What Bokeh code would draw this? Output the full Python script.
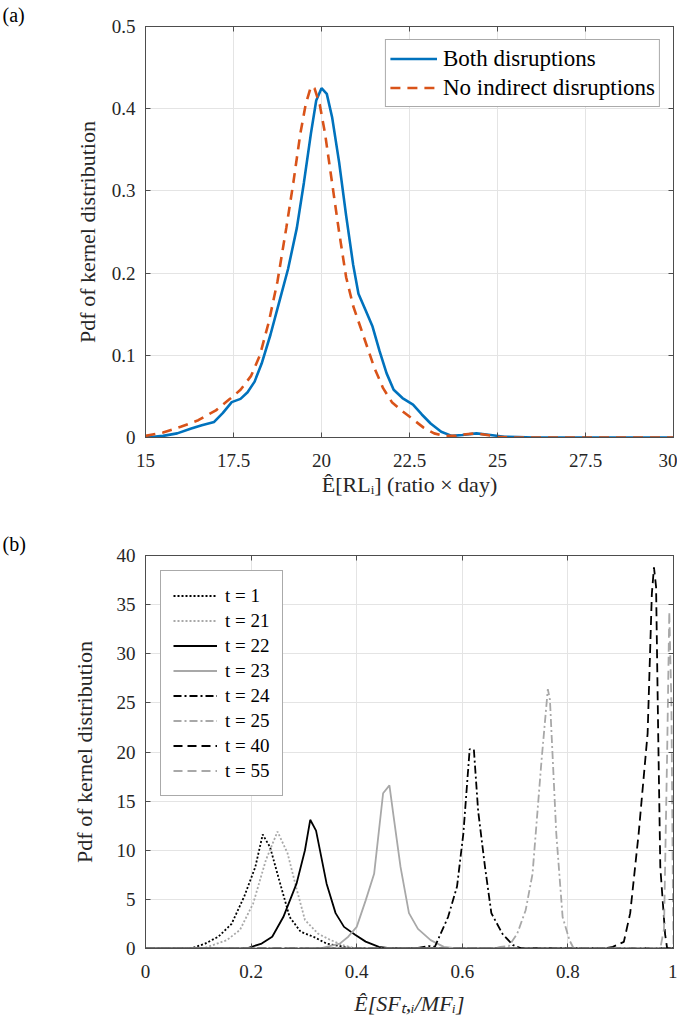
from bokeh.plotting import figure
from bokeh.models import LinearAxis, FixedTicker, Range1d
from bokeh.layouts import column
from bokeh.embed import file_html
from bokeh.resources import INLINE

# ---------------- data: panel (a) ----------------
a_x_ticks = [15, 17.5, 20, 22.5, 25, 27.5, 30]
a_x_labels = ["15", "17.5", "20", "22.5", "25", "27.5", "30"]
a_y_ticks = [0, 0.1, 0.2, 0.3, 0.4, 0.5]
a_y_labels = ["0", "0.1", "0.2", "0.3", "0.4", "0.5"]

both_x = [15, 15.5, 15.9, 16.3, 16.6, 16.95, 17.2, 17.45, 17.7, 17.9, 18.1, 18.3,
          18.55, 18.8, 19.05, 19.3, 19.5, 19.7, 19.85, 20.0, 20.15, 20.3, 20.5, 20.7,
          20.9, 21.05, 21.25, 21.45, 21.65, 21.85, 22.05, 22.3, 22.6, 22.85, 23.1,
          23.4, 23.7, 24.0, 24.4, 24.8, 25.2, 25.6, 26, 30]
both_y = [0.000, 0.002, 0.005, 0.011, 0.015, 0.019, 0.030, 0.043, 0.047, 0.055, 0.068, 0.090,
          0.125, 0.165, 0.205, 0.255, 0.310, 0.370, 0.410, 0.425, 0.418, 0.390, 0.335, 0.270,
          0.210, 0.175, 0.155, 0.135, 0.105, 0.078, 0.058, 0.048, 0.040, 0.028, 0.017,
          0.007, 0.002, 0.003, 0.005, 0.003, 0.001, 0.0005, 0, 0]

noind_x = [15, 15.5, 16.0, 16.5, 17.0, 17.4, 17.7, 18.0, 18.25, 18.5, 18.75, 19.0, 19.2,
           19.4, 19.55, 19.7, 19.8, 19.95, 20.1, 20.3, 20.5, 20.7, 20.9, 21.1, 21.3, 21.5,
           21.75, 22.0, 22.3, 22.6, 22.9, 23.2, 23.5, 23.8, 24.1, 24.4, 24.7, 25.0, 25.3, 30]
noind_y = [0.002, 0.006, 0.013, 0.021, 0.033, 0.047, 0.058, 0.075, 0.100, 0.140, 0.190, 0.255,
           0.310, 0.370, 0.405, 0.427, 0.425, 0.405, 0.370, 0.310, 0.250, 0.195, 0.160, 0.135,
           0.110, 0.085, 0.060, 0.043, 0.032, 0.022, 0.012, 0.005, 0.002, 0.002, 0.004, 0.005,
           0.003, 0.001, 0, 0]

# ---------------- data: panel (b) ----------------
b_x_ticks = [0, 0.2, 0.4, 0.6, 0.8, 1]
b_x_labels = ["0", "0.2", "0.4", "0.6", "0.8", "1"]
b_y_ticks = [0, 5, 10, 15, 20, 25, 30, 35, 40]
b_y_labels = ["0", "5", "10", "15", "20", "25", "30", "35", "40"]

t1_x = [0, 0.07, 0.09, 0.113, 0.138, 0.163, 0.187, 0.208, 0.222, 0.236, 0.253, 0.273,
        0.294, 0.318, 0.343, 0.376, 0.4, 1]
t1_y = [0, 0, 0.07, 0.5, 1.2, 2.5, 5.3, 8.3, 11.6, 10.3, 7.0, 3.2, 1.7, 1.2, 0.5, 0.17, 0, 0]

t21_x = [0, 0.1, 0.113, 0.154, 0.179, 0.204, 0.228, 0.25, 0.269, 0.286, 0.302, 0.327,
         0.351, 0.376, 0.4, 1]
t21_y = [0, 0, 0.07, 0.85, 1.9, 4.6, 9.0, 11.9, 9.7, 6.1, 2.9, 1.5, 0.85, 0.3, 0, 0]

t22_x = [0, 0.18, 0.195, 0.22, 0.24, 0.261, 0.286, 0.302, 0.312, 0.323, 0.343, 0.36,
         0.376, 0.397, 0.417, 0.442, 0.466, 1]
t22_y = [0, 0, 0.07, 0.5, 1.2, 3.2, 6.6, 10.0, 13.1, 12.0, 6.6, 3.6, 2.2, 1.4, 0.7, 0.17, 0, 0]

t23_x = [0, 0.32, 0.335, 0.368, 0.384, 0.4, 0.417, 0.433, 0.45, 0.462, 0.47, 0.483,
         0.499, 0.516, 0.54, 0.565, 0.59, 1]
t23_y = [0, 0, 0.07, 0.5, 1.2, 2.2, 4.9, 7.6, 15.8, 16.6, 13.4, 8.3, 3.6, 2.0, 0.85, 0.17, 0, 0]

t24_x = [0, 0.5, 0.516, 0.536, 0.548, 0.573, 0.59, 0.602, 0.614, 0.622, 0.63, 0.643,
         0.655, 0.676, 0.696, 0.713, 1]
t24_y = [0, 0, 0.07, 0.25, 0.17, 3.2, 6.3, 11.7, 20.3, 20.2, 14.0, 8.3, 3.6, 1.5, 0.34, 0, 0]

t25_x = [0, 0.66, 0.672, 0.688, 0.704, 0.72, 0.733, 0.75, 0.762, 0.766, 0.778, 0.79,
         0.803, 0.811, 1]
t25_y = [0, 0, 0.17, 0.24, 1.5, 3.9, 7.6, 19.1, 26.4, 25.3, 11.7, 3.2, 0.85, 0, 0]

t40_x = [0, 0.87, 0.885, 0.906, 0.918, 0.934, 0.951, 0.959, 0.963, 0.967, 0.971, 0.975,
         0.984, 0.988, 1]
t40_y = [0, 0, 0.17, 0.68, 3.6, 11.7, 21.9, 36.1, 38.8, 36.8, 21.9, 8.3, 1.5, 0, 0]

t55_x = [0, 0.975, 0.982, 0.988, 0.992, 0.996, 0.999, 1.0]
t55_y = [0, 0, 2.0, 20.0, 34.3, 25.0, 5.0, 0]

b_labels = ["t = 1", "t = 21", "t = 22", "t = 23", "t = 24", "t = 25", "t = 40", "t = 55"]

# ---------------- styling helpers ----------------
FONT = "Liberation Serif"
AXC = "#4d4d4d"
GRID = "#e4e4e4"


def style(p, xt, xl, yt, yl, xlabel, ylabel, xlabel_style, xstandoff, ystandoff):
    xo = {t: l for t, l in zip(xt, xl)}
    yo = {t: l for t, l in zip(yt, yl)}
    p.xaxis.ticker = FixedTicker(ticks=xt)
    p.yaxis.ticker = FixedTicker(ticks=yt)
    p.xaxis.major_label_overrides = xo
    p.yaxis.major_label_overrides = yo
    for ax in (p.xaxis[0], p.yaxis[0]):
        ax.axis_line_color = AXC
        ax.major_tick_line_color = AXC
        ax.major_tick_in = 5
        ax.major_tick_out = 0
        ax.minor_tick_line_color = None
        ax.major_label_text_font = FONT
        ax.major_label_text_font_size = "19px"
        ax.major_label_text_color = "#262626"
        ax.axis_label_text_font = FONT
        ax.axis_label_text_font_size = "22px"
        ax.axis_label_text_color = "#262626"
    p.xaxis.axis_label = xlabel
    p.yaxis.axis_label = ylabel
    p.xaxis.axis_label_text_font_style = xlabel_style
    p.yaxis.axis_label_text_font_style = "normal"
    p.xaxis.major_label_standoff = 16
    p.yaxis.major_label_standoff = 10
    p.xaxis.axis_label_standoff = xstandoff
    p.yaxis.axis_label_standoff = ystandoff
    p.xgrid.ticker = FixedTicker(ticks=xt)
    p.ygrid.ticker = FixedTicker(ticks=yt)
    p.grid.grid_line_color = GRID
    p.grid.grid_line_width = 1
    p.outline_line_color = AXC
    p.outline_line_alpha = 1
    for loc, tk in (("right", yt), ("above", xt)):
        ax = LinearAxis(ticker=FixedTicker(ticks=tk), major_label_text_font_size="1px",
                        major_label_text_color=None,
                        major_label_standoff=0, major_tick_in=5, major_tick_out=0,
                        minor_tick_line_color=None, axis_line_color=AXC,
                        major_tick_line_color=AXC)
        p.add_layout(ax, loc)
    p.title.align = "left"
    p.title.offset = -143
    p.title.text_font = FONT
    p.title.text_font_size = "20px"
    p.title.text_font_style = "normal"
    p.title.text_color = "#000000"
    p.title.standoff = 2


# ---------------- panel (a) ----------------
pa = figure(width=677, height=515, output_backend="svg", toolbar_location=None,
            title="(a)", x_range=Range1d(15, 30), y_range=Range1d(0, 0.5),
            min_border_left=145, min_border_right=4, min_border_top=0,
            min_border_bottom=78, background_fill_color="white")
style(pa, a_x_ticks, a_x_labels, a_y_ticks, a_y_labels,
      "Ê[RLᵢ] (ratio × day)", "Pdf of kernel distribution", "normal", 2, 9)

pa.line(both_x, both_y, line_color="#0072BD", line_width=2.6,
        legend_label="Both disruptions")
pa.line(noind_x, noind_y, line_color="#D95319", line_width=2.6, line_dash="10 7",
        legend_label="No indirect disruptions")

lg = pa.legend[0]
lg.location = "top_right"
lg.margin = 13
lg.padding = 4
lg.spacing = 0
lg.glyph_width = 47
lg.glyph_height = 29
lg.label_height = 29
lg.label_standoff = 6
lg.label_text_font = FONT
lg.label_text_font_size = "23px"
lg.label_text_color = "#000000"
lg.border_line_color = "#555555"
lg.border_line_width = 1
lg.background_fill_alpha = 1

# ---------------- panel (b) ----------------
pb = figure(width=677, height=510, output_backend="svg", toolbar_location=None,
            title="(b)", x_range=Range1d(0, 1), y_range=Range1d(0, 40),
            min_border_left=145, min_border_right=0, min_border_top=40,
            min_border_bottom=77, background_fill_color="white")
style(pb, b_x_ticks, b_x_labels, b_y_ticks, b_y_labels,
      "Ê[SFₜ,ᵢ/MFᵢ]", "Pdf of kernel distribution", "italic", 10, 17)

BLK = "#000000"
GRY = "#a8a8a8"
series = [
    (t1_x, t1_y, BLK, "2 2"),
    (t21_x, t21_y, GRY, "2 2"),
    (t22_x, t22_y, BLK, "solid"),
    (t23_x, t23_y, GRY, "solid"),
    (t24_x, t24_y, BLK, "8 3 2 3"),
    (t25_x, t25_y, GRY, "8 3 2 3"),
    (t40_x, t40_y, BLK, "9 5"),
    (t55_x, t55_y, GRY, "9 5"),
]
for (xs, ys, col, dash), lab in zip(series, b_labels):
    pb.line(xs, ys, line_color=col, line_width=1.8, line_dash=dash, legend_label=lab)

lb = pb.legend[0]
lb.location = "top_left"
lb.margin = 15
lb.padding = 12
lb.spacing = 0
lb.glyph_width = 44
lb.glyph_height = 25
lb.label_height = 25
lb.label_standoff = 8
lb.label_text_font = FONT
lb.label_text_font_size = "19px"
lb.label_text_color = "#000000"
lb.border_line_color = "#555555"
lb.border_line_width = 1
lb.background_fill_alpha = 1

layout = column(pa, pb, spacing=0)
open("out.html", "w").write(file_html(layout, INLINE))
